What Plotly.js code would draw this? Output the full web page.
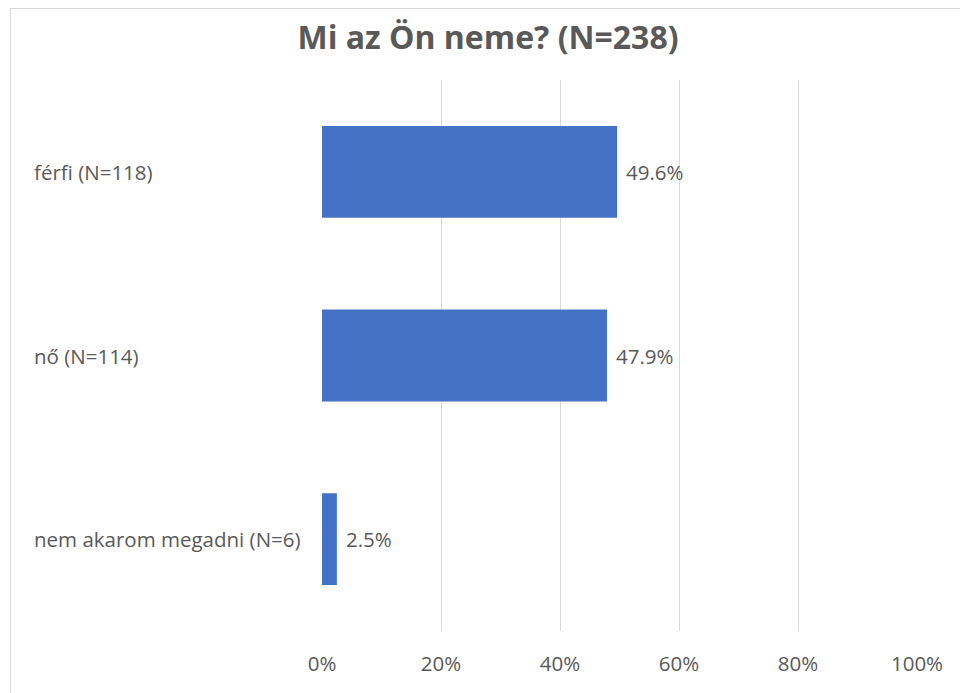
<!DOCTYPE html>
<html>
<head>
<meta charset="utf-8">
<script src="https://cdn.plot.ly/plotly-3.0.1.min.js"></script>
<style>
  html, body { margin: 0; padding: 0; background: #ffffff; overflow: hidden; }
  #frame { position: absolute; left: 10px; top: 8px; width: 1000px; height: 800px; border: 1px solid #d9d9d9; box-sizing: border-box; }
  #chart { position: absolute; left: 0; top: 0; width: 960px; height: 693px; }
</style>
</head>
<body>
<div id="frame"></div>
<div id="chart"></div>
<script>
const categories = ["férfi (N=118)", "nő (N=114)", "nem akarom megadni (N=6)"];
const percentages = [49.6, 47.9, 2.5];
const tickValues = [0, 20, 40, 60, 80, 100];
const tickLabels = ["0%", "20%", "40%", "60%", "80%", "100%"];

const textColor = "#595959";
const fontFamily = "'Open Sans', 'Noto Sans', sans-serif";
const labelSize = 20.5;

const trace = {
  type: "bar",
  orientation: "h",
  x: percentages,
  y: categories,
  width: 0.5,
  marker: { color: "#4472C4" },
  hoverinfo: "none"
};

const catAnnotations = categories.map(c => ({
  xref: "paper", yref: "y",
  x: -0.4875, y: c,
  text: c,
  showarrow: false,
  xanchor: "left", yanchor: "middle",
  font: { family: fontFamily, size: labelSize, color: textColor }
}));

const valueAnnotations = categories.map((c, i) => ({
  xref: "x", yref: "y",
  x: percentages[i], y: c,
  text: percentages[i].toFixed(1) + "%",
  showarrow: false,
  xanchor: "left", yanchor: "middle",
  xshift: 7,
  font: { family: fontFamily, size: labelSize, color: textColor }
}));

const layout = {
  width: 960, height: 693,
  paper_bgcolor: "rgba(0,0,0,0)",
  plot_bgcolor: "rgba(0,0,0,0)",
  margin: { l: 322, r: 43, t: 80, b: 62, pad: 0 },
  title: {
    text: "<b>Mi az Ön neme? (N=238)</b>",
    x: 488 / 960, xanchor: "center",
    y: 1 - 38 / 693, yanchor: "middle",
    font: { family: fontFamily, size: 32, color: textColor }
  },
  xaxis: {
    range: [0, 100],
    tickvals: tickValues,
    ticktext: tickLabels,
    showgrid: true,
    gridcolor: "#d9d9d9",
    gridwidth: 1,
    zeroline: false,
    showline: false,
    ticks: "",
    ticklabelstandoff: 18,
    tickfont: { family: fontFamily, size: labelSize, color: textColor },
    fixedrange: true
  },
  yaxis: {
    autorange: "reversed",
    showticklabels: false,
    showgrid: false,
    zeroline: false,
    showline: false,
    ticks: "",
    fixedrange: true
  },
  annotations: catAnnotations.concat(valueAnnotations),
  showlegend: false,
  bargap: 0.5
};

Plotly.newPlot("chart", [trace], layout, { displayModeBar: false, staticPlot: true });
</script>
</body>
</html>
